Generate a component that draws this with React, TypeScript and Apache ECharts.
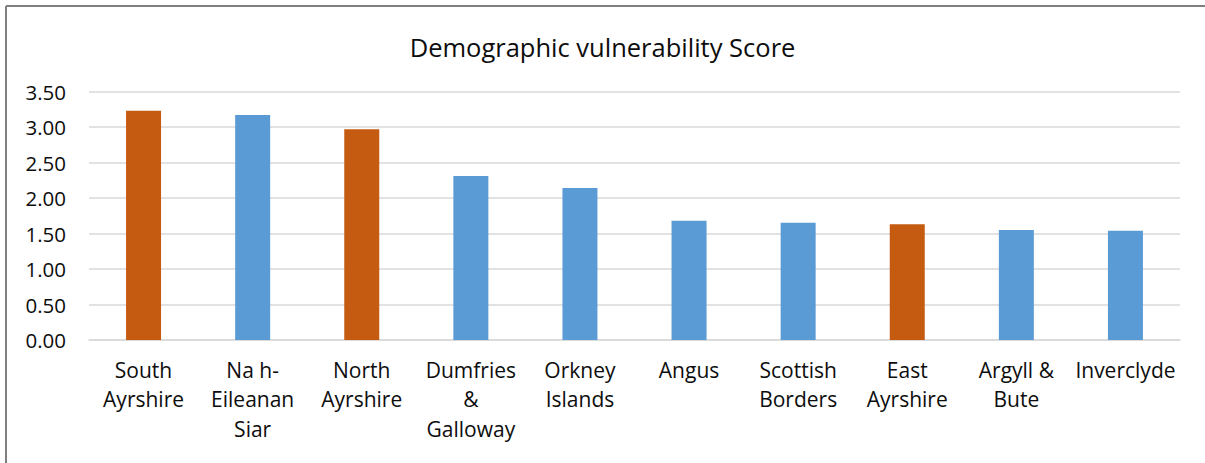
import React, { useEffect, useRef } from "react";
import * as echarts from "echarts";

const categories = [
  "South\nAyrshire",
  "Na h-\nEileanan\nSiar",
  "North\nAyrshire",
  "Dumfries\n&\nGalloway",
  "Orkney\nIslands",
  "Angus",
  "Scottish\nBorders",
  "East\nAyrshire",
  "Argyll &\nBute",
  "Inverclyde",
];
const scores = [3.23, 3.17, 2.97, 2.31, 2.14, 1.68, 1.65, 1.63, 1.55, 1.54];
const highlighted = [true, false, true, false, false, false, false, true, false, false];
const yTicks = { min: 0, max: 3.5, interval: 0.5 };
const titleText = "Demographic vulnerability Score";

const ORANGE = "#C55A11";
const BLUE = "#5B9BD5";
const FONT = "'Open Sans', sans-serif";

export default function App() {
  const ref = useRef<HTMLDivElement>(null);
  useEffect(() => {
    document.body.style.margin = "0";
    if (!ref.current) return;
    const chart = echarts.init(ref.current, undefined, { renderer: "svg" });
    chart.setOption({
      animation: false,
      backgroundColor: "#ffffff",
      title: {
        text: titleText,
        left: "center",
        top: 29,
        textStyle: { fontFamily: FONT, fontSize: 25.5, fontWeight: "normal", color: "#0d0d0d" },
      },
      graphic: [
        { type: "line", shape: { x1: 6, y1: 6, x2: 1205, y2: 6 }, style: { stroke: "#7f7f7f", lineWidth: 2 } },
        { type: "line", shape: { x1: 6, y1: 6, x2: 6, y2: 463 }, style: { stroke: "#7f7f7f", lineWidth: 2 } },
      ],
      grid: { left: 89, right: 25, top: 91.5, bottom: 123, containLabel: false },
      xAxis: {
        type: "category",
        data: categories,
        axisLine: { show: true, lineStyle: { color: "#D9D9D9", width: 1.5 } },
        axisTick: { show: false },
        axisLabel: {
          interval: 0,
          margin: 15,
          fontFamily: FONT,
          fontSize: 21,
          lineHeight: 29.5,
          color: "#0d0d0d",
        },
      },
      yAxis: {
        type: "value",
        min: yTicks.min,
        max: yTicks.max,
        interval: yTicks.interval,
        axisLine: { show: false },
        axisTick: { show: false },
        splitLine: { lineStyle: { color: "#D9D9D9", width: 1.5 } },
        axisLabel: {
          margin: 23,
          fontFamily: FONT,
          fontSize: 20.5,
          color: "#0d0d0d",
          formatter: (v: number) => v.toFixed(2),
        },
      },
      series: [
        {
          type: "bar",
          barWidth: 35,
          data: scores.map((v, i) => ({
            value: v,
            itemStyle: { color: highlighted[i] ? ORANGE : BLUE },
          })),
        },
      ],
    });
    return () => chart.dispose();
  }, []);
  return <div ref={ref} style={{ width: 1205, height: 463 }} />;
}
